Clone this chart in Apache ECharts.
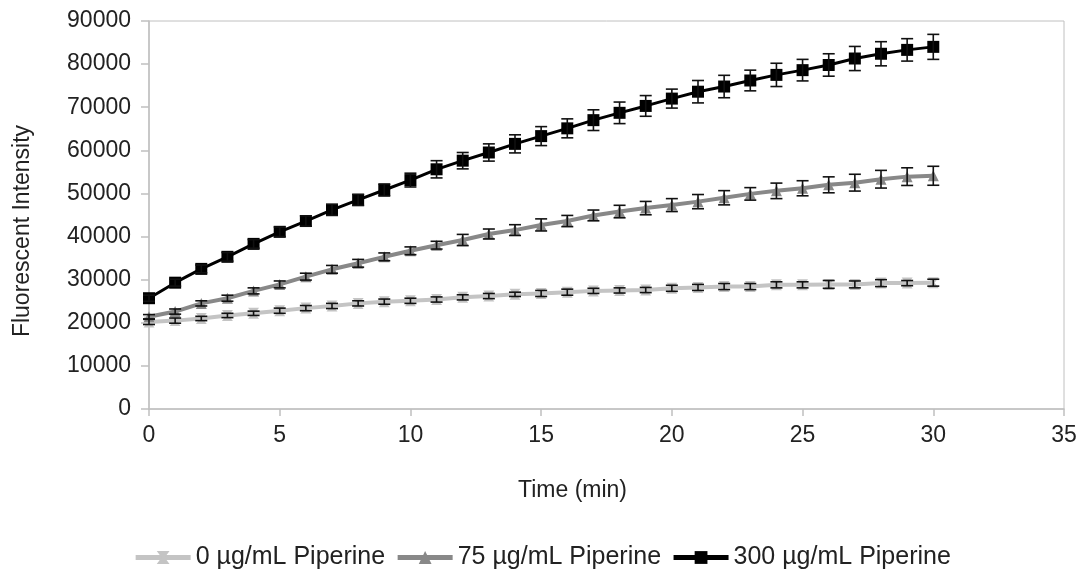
<!DOCTYPE html>
<html>
<head>
<meta charset="utf-8">
<script src="https://cdn.jsdelivr.net/npm/echarts@6/dist/echarts.min.js"></script>
<style>html,body{margin:0;padding:0;background:#fff}#c{width:1084px;height:576px}</style>
</head>
<body>
<div id="c"></div>
<script>
var times = [0,1,2,3,4,5,6,7,8,9,10,11,12,13,14,15,16,17,18,19,20,21,22,23,24,25,26,27,28,29,30];
var s300 = [25700,29300,32500,35300,38300,41100,43600,46200,48500,50800,53100,55600,57600,59500,61500,63300,65100,67000,68700,70300,72000,73600,74800,76200,77500,78600,79800,81300,82400,83300,84000];
var e300 = [700,800,900,1000,1000,1100,1200,1300,1300,1400,1600,2000,1900,2000,2100,2200,2200,2400,2500,2400,2200,2600,2600,2400,2700,2500,2600,2800,2800,2600,2900];
var s75 = [21400,22600,24500,25700,27400,28900,30700,32400,33800,35300,36700,38000,39200,40600,41500,42700,43600,44900,45800,46600,47300,48100,49000,49900,50600,51200,52000,52500,53300,53900,54100];
var e75 = [500,600,600,700,700,800,800,900,900,900,900,900,1300,1150,1250,1400,1300,1250,1450,1550,1500,1650,1650,1450,1800,1750,1850,1950,2050,2050,2200];
var s0 = [20200,20500,21000,21700,22200,22800,23400,23900,24500,24900,25100,25400,25900,26200,26600,26800,27100,27400,27500,27600,28000,28200,28400,28400,28800,28800,28900,28900,29200,29200,29300];
var e0 = [600,600,500,500,500,600,600,600,600,600,600,600,600,600,500,700,700,600,600,600,700,700,700,700,700,700,900,800,800,600,800];
var names = ['0 µg/mL Piperine','75 µg/mL Piperine','300 µg/mL Piperine'];
var xTicks = [0,5,10,15,20,25,30,35];

function pairs(vals){ return times.map(function(t,i){ return [t, vals[i]]; }); }
function errs(vals, e){ return times.map(function(t,i){ return [t, vals[i]-e[i], vals[i]+e[i]]; }); }

function errSeries(data, z){
  return {
    type: 'custom', z: z, silent: true,
    encode: { x: 0, y: [1, 2] },
    data: data,
    renderItem: function(params, api){
      var x = api.value(0);
      var lo = api.coord([x, api.value(1)]);
      var hi = api.coord([x, api.value(2)]);
      var w = 6;
      var st = { stroke: '#111', lineWidth: 1.6 };
      return { type: 'group', children: [
        { type: 'line', shape: { x1: lo[0], y1: lo[1], x2: hi[0], y2: hi[1] }, style: st },
        { type: 'line', shape: { x1: lo[0]-w, y1: lo[1], x2: lo[0]+w, y2: lo[1] }, style: st },
        { type: 'line', shape: { x1: hi[0]-w, y1: hi[1], x2: hi[0]+w, y2: hi[1] }, style: st }
      ]};
    }
  };
}

var hourglass = 'path://M0,0L10,0L6.2,5L10,10L0,10L3.8,5Z';
var chart = echarts.init(document.getElementById('c'));
chart.setOption({
  animation: false,
  textStyle: { fontFamily: 'Liberation Sans, Arial, sans-serif' },
  grid: { left: 149, right: 20, top: 21, bottom: 167, show: true, borderColor: '#c0c0c0', borderWidth: 1 },
  legend: {
    data: names, bottom: 1, left: 'center', itemWidth: 55, itemHeight: 16, itemGap: 10,
    lineStyle: { width: 5 },
    textStyle: { fontSize: 25, color: '#222' }
  },
  xAxis: {
    type: 'value', min: 0, max: 35, interval: 5,
    name: 'Time (min)', nameLocation: 'middle', nameGap: 70,
    nameTextStyle: { fontSize: 23, color: '#222', padding: [0, 68, 0, 0] },
    axisLine: { show: true, lineStyle: { color: '#c0c0c0', width: 1.5 } },
    axisTick: { show: true, length: 7, lineStyle: { color: '#c0c0c0', width: 1.5 } },
    axisLabel: { fontSize: 23, color: '#222', margin: 15,
      formatter: function(v){ return xTicks.indexOf(v) >= 0 ? String(v) : ''; } },
    splitLine: { show: false }
  },
  yAxis: {
    type: 'value', min: 0, max: 90000, interval: 10000,
    name: 'Fluorescent Intensity', nameLocation: 'middle', nameGap: 115, nameRotate: 90,
    nameTextStyle: { fontSize: 23, color: '#222', padding: [0, 32, 0, 0] },
    axisLine: { show: true, lineStyle: { color: '#c0c0c0', width: 1.5 } },
    axisTick: { show: true, length: 8, lineStyle: { color: '#c0c0c0', width: 1.5 } },
    axisLabel: { fontSize: 23, color: '#222', margin: 18,
      formatter: function(v){ return String(v); } },
    splitLine: { show: false }
  },
  series: [
    { name: names[0], type: 'line', data: pairs(s0), z: 2,
      symbol: hourglass, symbolSize: [11, 11], showSymbol: true,
      lineStyle: { color: '#c4c4c4', width: 4 }, itemStyle: { color: '#c4c4c4' } },
    { name: names[1], type: 'line', data: pairs(s75), z: 3,
      symbol: 'triangle', symbolSize: 11,
      lineStyle: { color: '#888888', width: 4 }, itemStyle: { color: '#888888' } },
    { name: names[2], type: 'line', data: pairs(s300), z: 4,
      symbol: 'rect', symbolSize: 12,
      lineStyle: { color: '#000000', width: 3 }, itemStyle: { color: '#000000' } },
    errSeries(errs(s0, e0), 5),
    errSeries(errs(s75, e75), 6),
    errSeries(errs(s300, e300), 7)
  ]
});
</script>
</body>
</html>
